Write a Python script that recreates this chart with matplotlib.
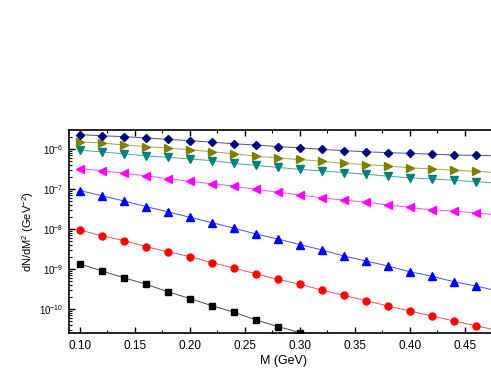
import matplotlib
matplotlib.use("Agg")
import matplotlib.pyplot as plt
import numpy as np
from matplotlib.ticker import MultipleLocator, FixedLocator, LogFormatterSciNotation, NullFormatter

plt.rcParams['font.family'] = ['Liberation Sans', 'DejaVu Sans']
plt.rcParams['mathtext.fontset'] = 'custom'
plt.rcParams['mathtext.rm'] = 'Liberation Sans'
plt.rcParams['mathtext.it'] = 'Liberation Sans:italic'

# masse (GeV)
m = [0.10, 0.12, 0.14, 0.16, 0.18, 0.20, 0.22, 0.24, 0.26, 0.28,
     0.30, 0.32, 0.34, 0.36, 0.38, 0.40, 0.42, 0.44, 0.46, 0.48]

# log10(dN/dM^2)
log_black = [-8.875, -9.05, -9.22, -9.38, -9.57, -9.74, -9.92, -10.08, -10.275, -10.44, -10.59]
log_red = [-8.025, -8.17, -8.29, -8.44, -8.57, -8.69, -8.84, -8.98, -9.12, -9.26,
           -9.38, -9.53, -9.66, -9.79, -9.925, -10.05, -10.175, -10.30, -10.42, -10.54]
log_blue = [-7.04, -7.17, -7.30, -7.44, -7.57, -7.71, -7.84, -7.98, -8.125, -8.25,
            -8.39, -8.525, -8.675, -8.80, -8.925, -9.07, -9.18, -9.32, -9.425, -9.55]
log_magenta = [-6.49, -6.54, -6.61, -6.67, -6.74, -6.81, -6.87, -6.93, -7.01, -7.08,
               -7.15, -7.22, -7.28, -7.33, -7.40, -7.46, -7.525, -7.55, -7.60, -7.65]
log_teal = [-6.025, -6.075, -6.12, -6.175, -6.21, -6.25, -6.29, -6.36, -6.41, -6.46,
            -6.51, -6.55, -6.59, -6.63, -6.68, -6.72, -6.75, -6.78, -6.82, -6.85]
log_olive = [-5.825, -5.85, -5.90, -5.94, -5.975, -6.02, -6.07, -6.12, -6.175, -6.23,
             -6.26, -6.31, -6.36, -6.39, -6.425, -6.47, -6.50, -6.53, -6.56, -6.59]
log_navy = [-5.64, -5.67, -5.69, -5.725, -5.76, -5.79, -5.83, -5.87, -5.90, -5.94,
            -5.97, -6.01, -6.04, -6.07, -6.09, -6.11, -6.13, -6.15, -6.16, -6.17]

x_ticks = [0.10, 0.15, 0.20, 0.25, 0.30, 0.35, 0.40, 0.45]
y_decades = [-10, -9, -8, -7, -6]

series = [
    (log_black, 'black', 's', 4.2),
    (log_red, '#ff0000', 'o', 5.0),
    (log_blue, '#0000ff', '^', 5.5),
    (log_magenta, '#ff00ff', '<', 5.5),
    (log_teal, '#008080', 'v', 5.5),
    (log_olive, '#808000', '>', 5.5),
    (log_navy, '#000080', 'D', 4.5),
]

fig = plt.figure(figsize=(4.91, 3.82), dpi=100)
ax = fig.add_axes([0.1405, 0.1283, 0.8737, 0.5314])

for vals, col, mk, ms in series:
    x = m[:len(vals)]
    y = 10.0 ** np.array(vals)
    ax.plot(x, y, '-', color=col, lw=0.7, alpha=0.7)
    ax.plot(x, y, mk, color=col, ms=ms, mec=col, lw=0)

ax.set_yscale('log')
ax.set_xlim(0.09, 0.48)
ax.set_ylim(10 ** -10.6, 10 ** -5.525)

ax.set_xticks(x_ticks)
ax.set_xticklabels(['%.2f' % v for v in x_ticks])
ax.xaxis.set_minor_locator(MultipleLocator(0.025))

minor_y = [k * 10.0 ** d for d in [-11] + y_decades for k in range(2, 10)]
minor_y = [v for v in minor_y if 10 ** -10.6 < v < 10 ** -5.525]
ax.yaxis.set_major_locator(FixedLocator([10.0 ** d for d in y_decades]))
ax.yaxis.set_minor_locator(FixedLocator(minor_y))
ax.yaxis.set_major_formatter(LogFormatterSciNotation())
ax.yaxis.set_minor_formatter(NullFormatter())

ax.tick_params(which='both', direction='in', top=True, right=False)
ax.tick_params(which='major', length=4, width=1)
ax.tick_params(which='minor', length=2, width=0.8)
ax.tick_params(axis='x', labelsize=8.5, pad=5)
ax.tick_params(axis='y', labelsize=7, pad=4)
ax.spines['right'].set_visible(False)
for s in ['left', 'bottom', 'top']:
    ax.spines[s].set_linewidth(1.2)

ax.set_xlabel('M (GeV)', fontsize=9, labelpad=2)
ax.set_ylabel('dN/dM$^2$ (GeV$^{-2}$)', fontsize=8, labelpad=2)

fig.savefig('out.png', dpi=100)
